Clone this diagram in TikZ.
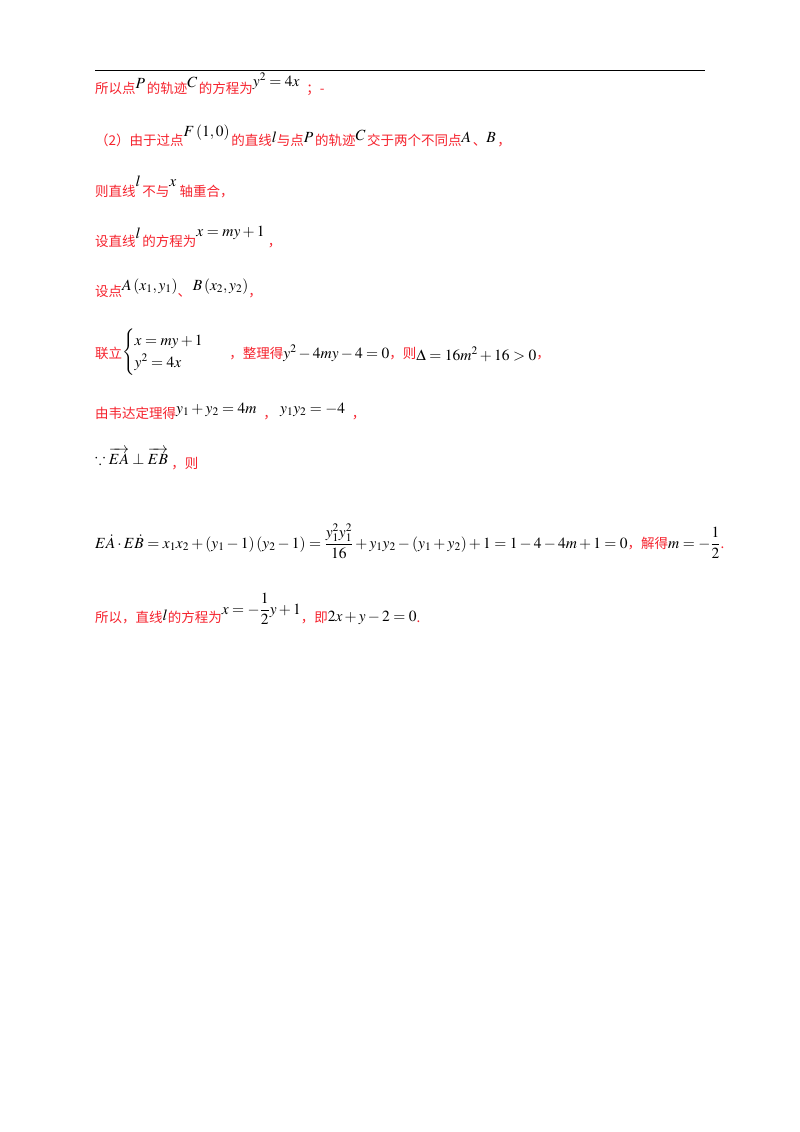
\documentclass[tikz,border=0pt]{standalone}
\usepackage{amsmath,amssymb}
\usepackage{mathptmx}
\usepackage{fontspec}
\newfontfamily\cjk{Noto Sans CJK SC}
\definecolor{zred}{HTML}{F5222D}
\newcommand{\zc}[1]{{\color{zred}\cjk\fontsize{13.5}{16}\selectfont #1}}
\newcommand{\zm}[2][5pt]{\raisebox{#1}{\fontsize{15.5}{18}\selectfont$#2$}}
\begin{document}
\begin{tikzpicture}[x=1pt,y=-1pt,line/.style={anchor=base west,inner sep=0pt}]
\useasboundingbox (0,0) rectangle (800,1132);
\draw[line width=1pt] (95,71) -- (705,71);
\node[line] (l1) at (95,93) {\zc{所以点}\zm{P}\,\zc{的轨迹}\zm[6pt]{C}\,\zc{的方程为}\zm[7pt]{y^2=4x}\ \ \zc{；-}};
\node[line] (l2) at (95,145) {\zc{（2）由于过点}\zm[9pt]{F\left(1,0\right)}\,\zc{的直线}\zm[3pt]{l}\zc{与点}\zm[3pt]{P}\,\zc{的轨迹}\zm[5pt]{C}\,\zc{交于两个不同点}\zm[3pt]{A}\,\zc{、}\zm[3pt]{B}\,\zc{，}};
\node[line] (l3) at (95,196) {\zc{则直线}\zm[10pt]{l}\,\zc{不与}\zm[10pt]{x}\ \zc{轴重合，}};
\node[line] (l4) at (95,246) {\zc{设直线}\zm[8pt]{l}\,\zc{的方程为}\zm[10pt]{x=my+1}\ \zc{，}};
\node[line] (l5) at (95,296) {\zc{设点}\zm[6pt]{A\left(x_1,y_1\right)}\zc{、}\,\zm[6pt]{B\left(x_2,y_2\right)}\zc{，}};
\node[line] (l6) at (95,358) {\zc{联立}\zm[2pt]{\begin{cases}x=my+1\\ y^2=4x\end{cases}}\ \ \ \zc{，整理得}\zm[0pt]{y^2-4my-4=0}\zc{，则}\zm[-2pt]{\Delta=16m^2+16>0}\zc{，}};
\node[line] (l7) at (95,418) {\zc{由韦达定理得}\zm[5pt]{y_1+y_2=4m}\ \ \zc{，}\ \zm[5pt]{y_1y_2=-4}\ \ \zc{，}};
\node[line] (l8) at (95,468) {\zm[4pt]{\because\overrightarrow{EA}\perp\overrightarrow{EB}}\ \zc{，则}};
\node[line] (l9) at (95,548) {\zm[0pt]{E\dot{A}\cdot E\dot{B}=x_1x_2+\left(y_1-1\right)\left(y_2-1\right)=\dfrac{y_1^2y_1^2}{16}+y_1y_2-\left(y_1+y_2\right)+1=1-4-4m+1=0}\zc{，解得}\zm[0pt]{m=-\dfrac{1}{2}}\zc{.}};
\node[line] (l10) at (95,622) {\zc{所以，直线}\zm[2pt]{l}\zc{的方程为}\zm[8pt]{x=-\dfrac{1}{2}y+1}\zc{，即}\zm[1pt]{2x+y-2=0}\zc{.}};
\end{tikzpicture}
\end{document}
